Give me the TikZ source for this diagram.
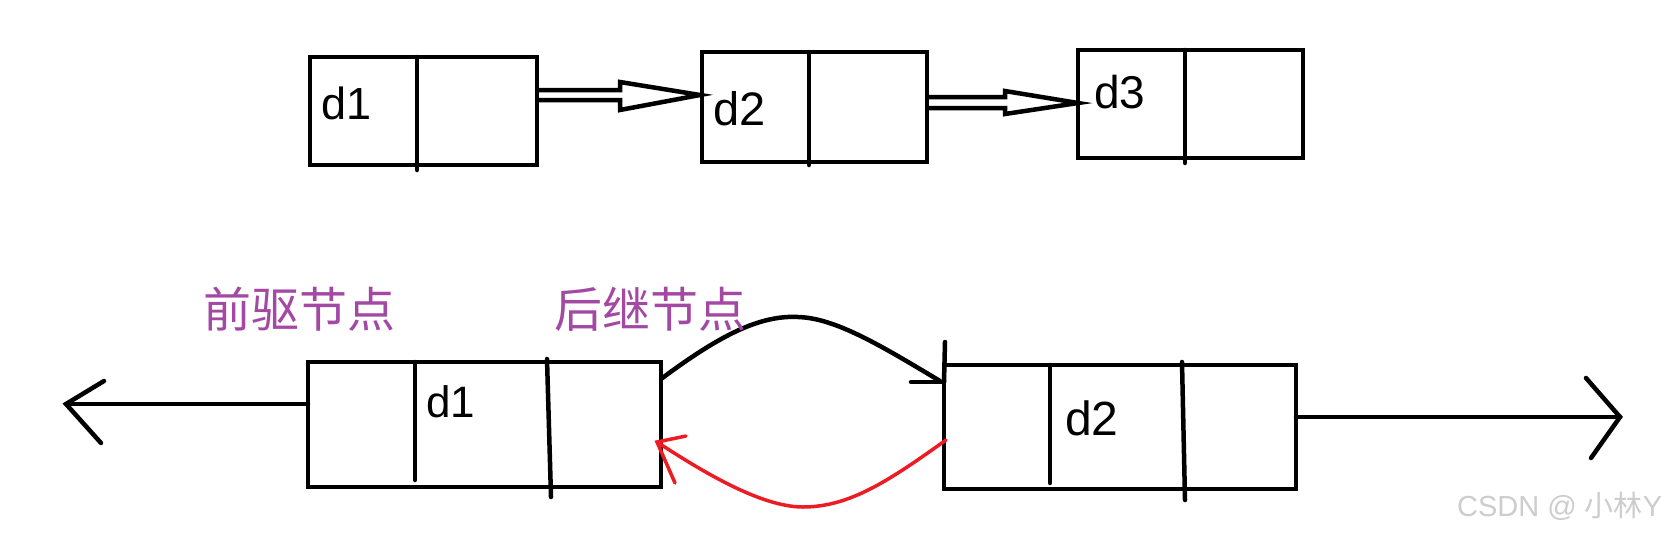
\documentclass[tikz,border=0pt]{standalone}
\usepackage{fontspec}
\setmainfont{Liberation Sans}
\newfontfamily\cjk{Noto Sans CJK SC}
\usetikzlibrary{calc}
\definecolor{pred}{HTML}{ED1C24}
\definecolor{ppurple}{HTML}{A349A4}
\definecolor{wmgrey}{HTML}{CDCDCD}
\begin{document}
\begin{tikzpicture}[x=1pt,y=-1pt,
  box/.style={draw,line width=4.5pt,inner sep=0pt,outer sep=0pt,rectangle},
  ln/.style={line width=4.5pt,line cap=round},
  lbl/.style={inner sep=0pt,anchor=base west},
  cn/.style={inner sep=0pt,anchor=base west,text=ppurple,font=\cjk\fontsize{48}{48}\selectfont},
  hollow/.style={line width=4.5pt,line join=miter},
  redl/.style={pred,line width=3.5pt,line cap=round}]
\path[use as bounding box,fill=white] (0,0) rectangle (1676,536);

% ---------- top row ----------
\node[box,minimum width=227pt,minimum height=108pt] (t1) at (423.5,111) {};
\node[box,minimum width=225pt,minimum height=110pt] (t2) at (814.5,107) {};
\node[box,minimum width=225pt,minimum height=108pt] (t3) at (1190.5,104) {};
\draw[ln] (417,57) -- (417,170);
\draw[ln] (809,52) -- (809,165);
\draw[ln] (1185,50) -- (1185,163);
\node[lbl,font=\fontsize{45}{45}\selectfont] (t1l) at (321,119) {d1};
\node[lbl,font=\fontsize{47}{47}\selectfont] (t2l) at (713,125) {d2};
\node[lbl,font=\fontsize{46}{46}\selectfont] (t3l) at (1094,108) {d3};

% hollow arrows
\draw[hollow] ([yshift=16pt]t1.east) ++(0,-5) -- ++(83,0) -- ++(0,-8)
  -- ([yshift=12pt,xshift=-2pt]t2.west) -- ++(-80,15) -- ++(0,-10) -- ++(-83,0);
\draw[hollow] ([yshift=4.5pt]t2.east) ++(0,-5.5) -- ++(78,0) -- ++(0,-6)
  -- ([yshift=1pt]t3.west) -- ++(-73,11) -- ++(0,-6) -- ++(-78,0);

% ---------- bottom row ----------
\node[box,minimum width=353pt,minimum height=125pt] (b1) at (484.5,424.5) {};
\node[box,minimum width=352pt,minimum height=124pt] (b2) at (1120,427) {};
\draw[ln] (415,362) -- (415,480);
\draw[ln] (547,359) -- (551,497);
\draw[ln] (1050,365) -- (1050,483);
\draw[ln] (1182,362) -- (1185,500);
\node[lbl,font=\fontsize{44}{44}\selectfont] (b1l) at (426,417) {d1};
\node[lbl,font=\fontsize{48}{48}\selectfont] (b2l) at (1065,435) {d2};

% left (predecessor) arrow
\coordinate (ltip) at (66,404);
\draw[ln] ([yshift=20.5pt]b1.west) -- (ltip);
\draw[ln] (104,381) -- (ltip) -- (101,443);

% right (successor) arrow
\coordinate (rtip) at (1620,417);
\draw[ln] ([yshift=10pt]b2.east) -- (rtip);
\draw[ln] (1586,378) -- (rtip) -- (1591,458);

% black curve b1 -> b2
\coordinate (bk) at (798,317);
\draw[ln] ([yshift=45.5pt]b1.east) .. controls (720,335) and (760,315) .. (bk)
  .. controls (835,318) and (880,345) .. ([yshift=46pt,xshift=-4pt]b2.west);
\draw[ln] (911,382) -- (944,382);
\draw[ln] (945,342) -- (944,382);

% red curve b2 -> b1
\coordinate (rd) at (803,507);
\draw[redl] ([yshift=-13pt,xshift=2pt]b2.west) .. controls (890,480) and (850,507) .. (rd)
  .. controls (760,507) and (700,470) .. ([yshift=-17.5pt,xshift=-4pt]b1.east);
\draw[redl] (686,436) -- ([yshift=-17.5pt,xshift=-4pt]b1.east) -- (675,483);

% labels
\node[cn] (pre) at (203,327) {前驱节点};
\node[cn] (suc) at (554,327) {后继节点};

% watermark
\node[inner sep=0pt,anchor=base west,text=wmgrey,font=\fontsize{29}{29}\selectfont] (wm) at (1457,516) {CSDN @ {\cjk 小林}Y};
\end{tikzpicture}
\end{document}
